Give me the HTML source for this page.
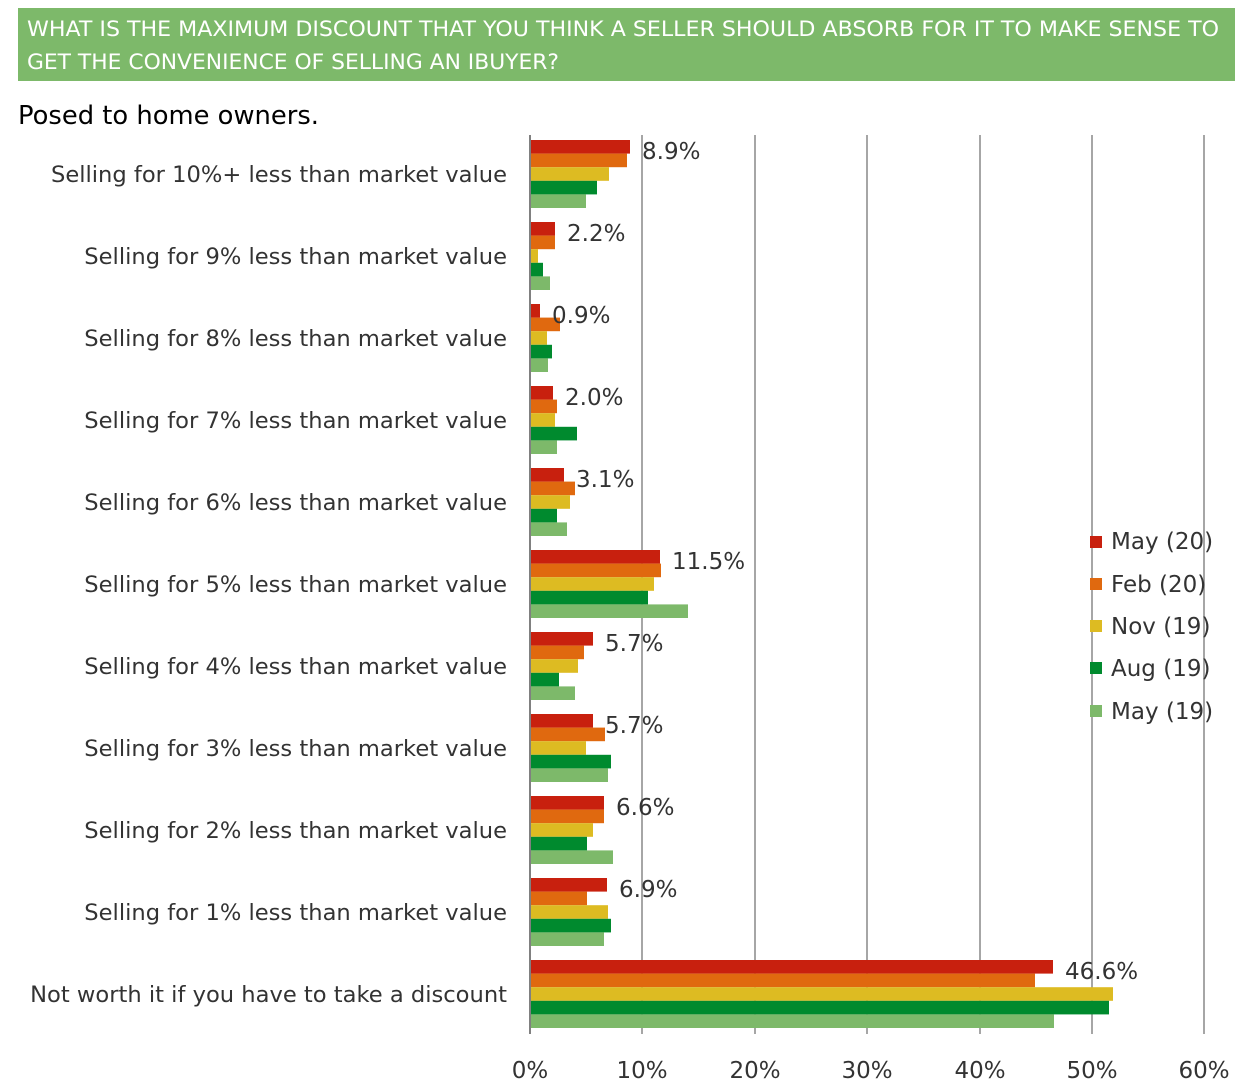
<!DOCTYPE html>
<html><head><meta charset="utf-8"><style>
html,body{margin:0;padding:0;background:#fff;}
svg{display:block;font-family:"DejaVu Sans","Liberation Sans",sans-serif;}
</style></head><body>
<svg width="1243" height="1091" viewBox="0 0 1243 1091" xmlns="http://www.w3.org/2000/svg">
<rect x="18" y="8" width="1217" height="73" fill="#7DB96A"/>
<text x="27" y="36" fill="#fff" font-size="21" textLength="1192" lengthAdjust="spacingAndGlyphs">WHAT IS THE MAXIMUM DISCOUNT THAT YOU THINK A SELLER SHOULD ABSORB FOR IT TO MAKE SENSE TO</text>
<text x="27" y="69" fill="#fff" font-size="21" textLength="532" lengthAdjust="spacingAndGlyphs">GET THE CONVENIENCE OF SELLING AN IBUYER?</text>
<text x="18" y="124" fill="#000" font-size="26" textLength="301" lengthAdjust="spacingAndGlyphs">Posed to home owners.</text>
<g stroke="#A6A6A6" stroke-width="2">
<line x1="642" y1="135" x2="642" y2="1034"/><line x1="755" y1="135" x2="755" y2="1034"/><line x1="867" y1="135" x2="867" y2="1034"/><line x1="980" y1="135" x2="980" y2="1034"/><line x1="1092" y1="135" x2="1092" y2="1034"/><line x1="1204" y1="135" x2="1204" y2="1034"/>
</g>
<g id="bars"></g>
<line x1="530" y1="135" x2="530" y2="1034" stroke="#808080" stroke-width="2"/>
<g font-size="23" fill="#333" text-anchor="middle">
<text x="530" y="1078">0%</text><text x="642" y="1078">10%</text><text x="755" y="1078">20%</text><text x="867" y="1078">30%</text><text x="980" y="1078">40%</text><text x="1092" y="1078">50%</text><text x="1204" y="1078">60%</text>
</g>
<g font-size="23" fill="#333" id="labels"></g>
<g font-size="23" fill="#333">
<rect x="1090" y="536" width="12" height="12" fill="#C8200E"/><text x="1111" y="549">May (20)</text>
<rect x="1090" y="578" width="12" height="12" fill="#E0690F"/><text x="1111" y="592">Feb (20)</text>
<rect x="1090" y="620" width="12" height="12" fill="#DDBB22"/><text x="1111" y="634">Nov (19)</text>
<rect x="1090" y="662" width="12" height="12" fill="#008A2E"/><text x="1111" y="676">Aug (19)</text>
<rect x="1090" y="705" width="12" height="12" fill="#7DB96A"/><text x="1111" y="719">May (19)</text>
</g>
<script>
var cats=["Selling for 10%+ less than market value","Selling for 9% less than market value","Selling for 8% less than market value","Selling for 7% less than market value","Selling for 6% less than market value","Selling for 5% less than market value","Selling for 4% less than market value","Selling for 3% less than market value","Selling for 2% less than market value","Selling for 1% less than market value","Not worth it if you have to take a discount"];
var ends=[[630,627,609,597,586],[555,555,538,543,550],[540,560,547,552,548],[553,557,555,577,557],[564,575,570,557,567],[660,661,654,648,688],[593,584,578,559,575],[593,605,586,611,608],[604,604,593,587,613],[607,587,608,611,604],[1053,1035,1113,1109,1054]];
var vals=["8.9%","2.2%","0.9%","2.0%","3.1%","11.5%","5.7%","5.7%","6.6%","6.9%","46.6%"];
var cols=["#C8200E","#E0690F","#DDBB22","#008A2E","#7DB96A"];
var ns="http://www.w3.org/2000/svg",b=document.getElementById("bars"),l=document.getElementById("labels");
for(var i=0;i<11;i++){var y0=140+i*82;
for(var j=0;j<5;j++){var r=document.createElementNS(ns,"rect");r.setAttribute("x",531);r.setAttribute("y",y0+j*13.6);r.setAttribute("width",ends[i][j]-531);r.setAttribute("height",13.6);r.setAttribute("fill",cols[j]);b.appendChild(r);}
var t=document.createElementNS(ns,"text");t.setAttribute("x",ends[i][0]+12);t.setAttribute("y",y0+19);t.textContent=vals[i];l.appendChild(t);
var c=document.createElementNS(ns,"text");c.setAttribute("x",507);c.setAttribute("y",y0+42);c.setAttribute("text-anchor","end");c.setAttribute("font-size","22.6");c.textContent=cats[i];l.appendChild(c);}
</script>
</svg>
</body></html>
